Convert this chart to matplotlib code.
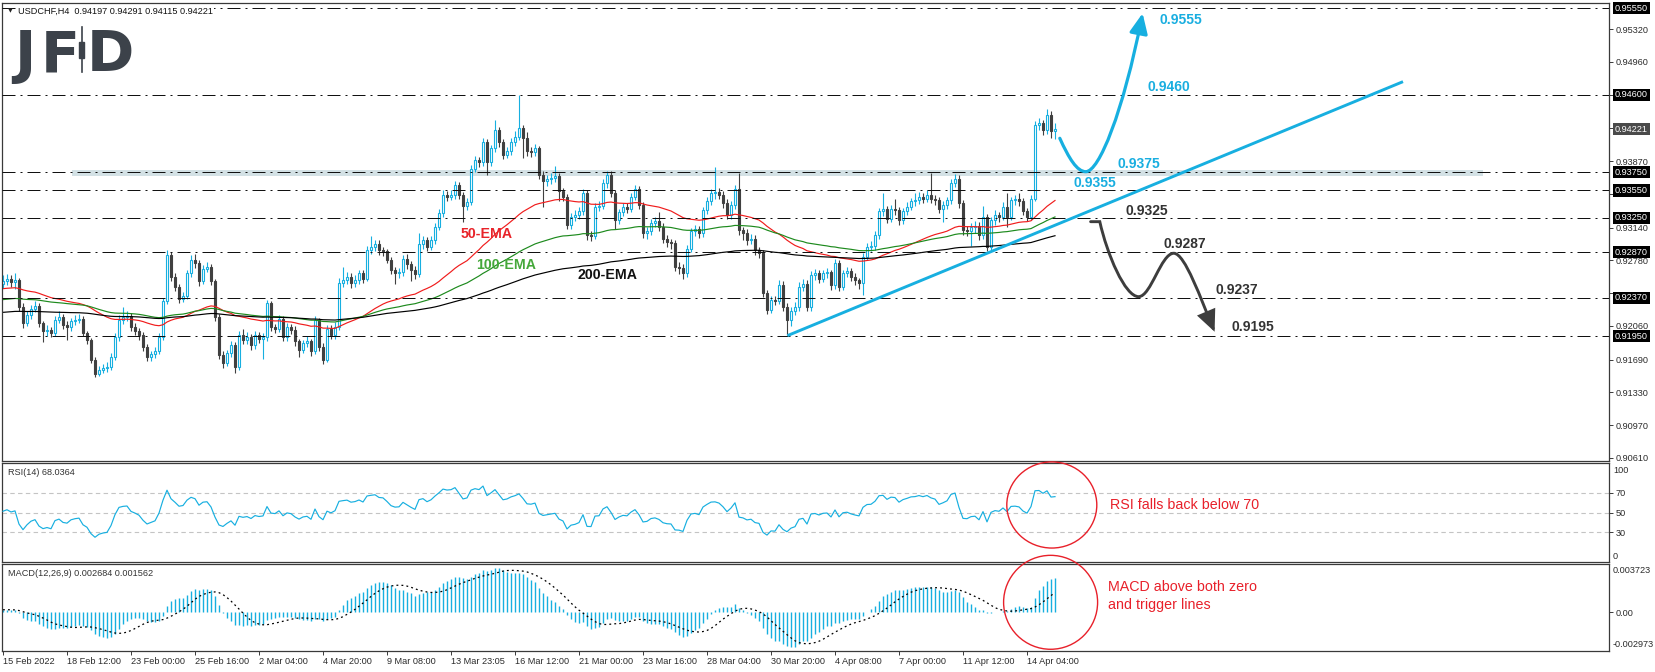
import numpy as np
import matplotlib
matplotlib.use('Agg')
from matplotlib import pyplot as plt
from matplotlib.patches import Rectangle, Ellipse, FancyArrowPatch
from matplotlib.path import Path
import matplotlib.transforms as mtransforms

plt.rcParams['font.family'] = ['Liberation Sans', 'DejaVu Sans']

# ---------------------------------------------------------------
# USDCHF H4 candles (bar 0 = 15 Feb 20:00)
# ---------------------------------------------------------------
first_open = 0.9252
close = [
    0.9255, 0.9258, 0.9254, 0.9256, 0.9227, 0.9209, 0.9218, 0.9225, 0.9228, 0.9209,
    0.9200, 0.9202, 0.9198, 0.9213, 0.9216, 0.9207, 0.9205, 0.9211, 0.9213, 0.9214,
    0.9198, 0.9191, 0.9169, 0.9153, 0.9158, 0.9160, 0.9161, 0.9172, 0.9194, 0.9213,
    0.9216, 0.9217, 0.9205, 0.9201, 0.9196, 0.9183, 0.9172, 0.9175, 0.9178, 0.9194,
    0.9233, 0.9284, 0.9260, 0.9249, 0.9236, 0.9239, 0.9264, 0.9279, 0.9275, 0.9255,
    0.9269, 0.9271, 0.9255, 0.9216, 0.9174, 0.9165, 0.9176, 0.9185, 0.9161, 0.9196,
    0.9191, 0.9194, 0.9185, 0.9196, 0.9192, 0.9194, 0.9231, 0.9205, 0.9203, 0.9214,
    0.9194, 0.9205, 0.9202, 0.9189, 0.9180, 0.9187, 0.9189, 0.9178, 0.9213, 0.9183,
    0.9169, 0.9203, 0.9196, 0.9205, 0.9253, 0.9257, 0.9260, 0.9253, 0.9256, 0.9264,
    0.9258, 0.9289, 0.9293, 0.9296, 0.9289, 0.9288, 0.9279, 0.9268, 0.9264, 0.9265,
    0.9280, 0.9274, 0.9268, 0.9263, 0.9296, 0.9300, 0.9293, 0.9300, 0.9315, 0.9330,
    0.9350, 0.9348, 0.9350, 0.9361, 0.9350, 0.9338, 0.9342, 0.9379, 0.9388, 0.9386,
    0.9408, 0.9386, 0.9401, 0.9421, 0.9408, 0.9394, 0.9398, 0.9408, 0.9414, 0.9423,
    0.9412, 0.9398, 0.9397, 0.9401, 0.9372, 0.9365, 0.9367, 0.9369, 0.9371, 0.9354,
    0.9348, 0.9317, 0.9326, 0.9328, 0.9332, 0.9352, 0.9306, 0.9305, 0.9337, 0.9338,
    0.9363, 0.9372, 0.9352, 0.9322, 0.9331, 0.9337, 0.9335, 0.9348, 0.9357, 0.9339,
    0.9308, 0.9310, 0.9319, 0.9321, 0.9315, 0.9302, 0.9298, 0.9297, 0.9271, 0.9270,
    0.9264, 0.9291, 0.9310, 0.9312, 0.9308, 0.9333, 0.9343, 0.9352, 0.9353, 0.9350,
    0.9341, 0.9328, 0.9339, 0.9357, 0.9311, 0.9308, 0.9300, 0.9302, 0.9289, 0.9286,
    0.9242, 0.9224, 0.9235, 0.9234, 0.9251, 0.9227, 0.9213, 0.9223, 0.9227, 0.9249,
    0.9252, 0.9227, 0.9262, 0.9264, 0.9258, 0.9264, 0.9265, 0.9251, 0.9275, 0.9249,
    0.9264, 0.9266, 0.9260, 0.9256, 0.9253, 0.9282, 0.9293, 0.9294, 0.9306, 0.9332,
    0.9334, 0.9324, 0.9334, 0.9333, 0.9322, 0.9332, 0.9337, 0.9343, 0.9344, 0.9348,
    0.9346, 0.9350, 0.9346, 0.9344, 0.9335, 0.9339, 0.9344, 0.9363, 0.9368, 0.9341,
    0.9311, 0.9310, 0.9315, 0.9316, 0.9306, 0.9326, 0.9293, 0.9322, 0.9328, 0.9326,
    0.9337, 0.9326, 0.9344, 0.9345, 0.9343, 0.9332, 0.9326, 0.9346, 0.9427, 0.9429,
    0.9421, 0.9438, 0.94197, 0.94221,
]
high = [
    0.9262, 0.9263, 0.9262, 0.9264, 0.9259, 0.9231, 0.9222, 0.9229, 0.9234, 0.9231,
    0.9212, 0.9207, 0.9205, 0.9217, 0.9223, 0.9219, 0.9211, 0.9215, 0.9218, 0.9219,
    0.9217, 0.9201, 0.9193, 0.9172, 0.9162, 0.9164, 0.9166, 0.9176, 0.9198, 0.9218,
    0.9227, 0.9222, 0.9220, 0.9209, 0.9204, 0.9199, 0.9186, 0.9179, 0.9183, 0.9198,
    0.9237, 0.9289, 0.9287, 0.9264, 0.9252, 0.9243, 0.9268, 0.9284, 0.9285, 0.9278,
    0.9273, 0.9276, 0.9274, 0.9258, 0.9219, 0.9178, 0.9180, 0.9190, 0.9188, 0.9201,
    0.9203, 0.9199, 0.9197, 0.9200, 0.9199, 0.9198, 0.9235, 0.9233, 0.9208, 0.9218,
    0.9217, 0.9209, 0.9208, 0.9206, 0.9192, 0.9191, 0.9195, 0.9192, 0.9217, 0.9215,
    0.9187, 0.9207, 0.9207, 0.9210, 0.9259, 0.9271, 0.9265, 0.9264, 0.9262, 0.9268,
    0.9268, 0.9294, 0.9305, 0.9301, 0.9300, 0.9293, 0.9291, 0.9282, 0.9271, 0.9270,
    0.9284, 0.9285, 0.9277, 0.9272, 0.9308, 0.9305, 0.9304, 0.9305, 0.9319, 0.9334,
    0.9355, 0.9354, 0.9355, 0.9365, 0.9364, 0.9353, 0.9347, 0.9383, 0.9393, 0.9392,
    0.9413, 0.9411, 0.9405, 0.9432, 0.9425, 0.9411, 0.9403, 0.9413, 0.9420, 0.9460,
    0.9427, 0.9419, 0.9403, 0.9406, 0.9404, 0.9376, 0.9372, 0.9374, 0.9382, 0.9374,
    0.9358, 0.9351, 0.9330, 0.9333, 0.9337, 0.9357, 0.9355, 0.9310, 0.9341, 0.9343,
    0.9367, 0.9376, 0.9376, 0.9355, 0.9335, 0.9341, 0.9341, 0.9352, 0.9361, 0.9360,
    0.9342, 0.9315, 0.9324, 0.9326, 0.9331, 0.9319, 0.9306, 0.9302, 0.9300, 0.9276,
    0.9274, 0.9295, 0.9314, 0.9317, 0.9316, 0.9337, 0.9348, 0.9356, 0.9381, 0.9358,
    0.9354, 0.9345, 0.9343, 0.9361, 0.9374, 0.9315, 0.9312, 0.9307, 0.9306, 0.9293,
    0.9289, 0.9246, 0.9239, 0.9239, 0.9256, 0.9255, 0.9231, 0.9227, 0.9232, 0.9254,
    0.9258, 0.9256, 0.9266, 0.9269, 0.9268, 0.9268, 0.9270, 0.9268, 0.9280, 0.9278,
    0.9268, 0.9271, 0.9270, 0.9264, 0.9259, 0.9286, 0.9297, 0.9299, 0.9310, 0.9336,
    0.9352, 0.9338, 0.9339, 0.9345, 0.9337, 0.9336, 0.9342, 0.9347, 0.9352, 0.9353,
    0.9352, 0.9355, 0.9374, 0.9350, 0.9348, 0.9343, 0.9348, 0.9367, 0.9373, 0.9372,
    0.9344, 0.9316, 0.9319, 0.9321, 0.9320, 0.9338, 0.9329, 0.9326, 0.9333, 0.9331,
    0.9342, 0.9352, 0.9348, 0.9350, 0.9352, 0.9347, 0.9336, 0.9350, 0.9431, 0.9434,
    0.9432, 0.9444, 0.9442, 0.94291,
]
low = [
    0.9248, 0.9251, 0.9249, 0.9247, 0.9222, 0.9204, 0.9206, 0.9214, 0.9221, 0.9205,
    0.9188, 0.9195, 0.9194, 0.9195, 0.9209, 0.9203, 0.9191, 0.9201, 0.9207, 0.9209,
    0.9195, 0.9186, 0.9165, 0.9150, 0.9151, 0.9154, 0.9155, 0.9158, 0.9169, 0.9190,
    0.9208, 0.9211, 0.9201, 0.9196, 0.9191, 0.9179, 0.9167, 0.9168, 0.9171, 0.9175,
    0.9191, 0.9230, 0.9255, 0.9244, 0.9231, 0.9232, 0.9236, 0.9260, 0.9270, 0.9250,
    0.9252, 0.9265, 0.9251, 0.9212, 0.9170, 0.9160, 0.9162, 0.9172, 0.9154, 0.9158,
    0.9186, 0.9186, 0.9180, 0.9181, 0.9187, 0.9170, 0.9190, 0.9201, 0.9198, 0.9199,
    0.9189, 0.9190, 0.9197, 0.9184, 0.9172, 0.9176, 0.9183, 0.9173, 0.9175, 0.9179,
    0.9164, 0.9166, 0.9192, 0.9192, 0.9202, 0.9249, 0.9252, 0.9248, 0.9249, 0.9252,
    0.9253, 0.9255, 0.9285, 0.9288, 0.9284, 0.9283, 0.9275, 0.9263, 0.9252, 0.9259,
    0.9261, 0.9269, 0.9255, 0.9258, 0.9260, 0.9291, 0.9288, 0.9289, 0.9296, 0.9311,
    0.9326, 0.9343, 0.9344, 0.9346, 0.9345, 0.9320, 0.9333, 0.9339, 0.9375, 0.9381,
    0.9382, 0.9372, 0.9382, 0.9397, 0.9403, 0.9389, 0.9390, 0.9394, 0.9404, 0.9410,
    0.9390, 0.9393, 0.9392, 0.9393, 0.9368, 0.9337, 0.9360, 0.9362, 0.9364, 0.9343,
    0.9343, 0.9313, 0.9313, 0.9321, 0.9324, 0.9328, 0.9300, 0.9299, 0.9302, 0.9332,
    0.9334, 0.9358, 0.9348, 0.9313, 0.9318, 0.9327, 0.9330, 0.9331, 0.9344, 0.9334,
    0.9303, 0.9302, 0.9306, 0.9315, 0.9310, 0.9297, 0.9293, 0.9291, 0.9266, 0.9263,
    0.9258, 0.9260, 0.9287, 0.9305, 0.9303, 0.9304, 0.9329, 0.9339, 0.9346, 0.9345,
    0.9336, 0.9323, 0.9324, 0.9335, 0.9306, 0.9300, 0.9295, 0.9296, 0.9284, 0.9281,
    0.9238, 0.9219, 0.9220, 0.9229, 0.9230, 0.9222, 0.9196, 0.9206, 0.9218, 0.9223,
    0.9244, 0.9222, 0.9223, 0.9257, 0.9253, 0.9254, 0.9259, 0.9246, 0.9247, 0.9244,
    0.9245, 0.9260, 0.9255, 0.9251, 0.9247, 0.9240, 0.9278, 0.9288, 0.9290, 0.9302,
    0.9327, 0.9319, 0.9320, 0.9328, 0.9317, 0.9318, 0.9328, 0.9333, 0.9338, 0.9340,
    0.9341, 0.9342, 0.9341, 0.9339, 0.9330, 0.9320, 0.9335, 0.9340, 0.9359, 0.9336,
    0.9306, 0.9305, 0.9294, 0.9308, 0.9301, 0.9302, 0.9288, 0.9289, 0.9317, 0.9320,
    0.9322, 0.9315, 0.9322, 0.9339, 0.9338, 0.9328, 0.9321, 0.9322, 0.9343, 0.9421,
    0.9416, 0.9417, 0.9413, 0.94115,
]

# time axis: one label every 16 bars
time_labels = ['15 Feb 2022', '18 Feb 12:00', '23 Feb 00:00', '25 Feb 16:00', '2 Mar 04:00',
               '4 Mar 20:00', '9 Mar 08:00', '13 Mar 23:05', '16 Mar 12:00', '21 Mar 00:00',
               '23 Mar 16:00', '28 Mar 04:00', '30 Mar 20:00', '4 Apr 08:00', '7 Apr 00:00',
               '11 Apr 12:00', '14 Apr 04:00']
label_step = 16

# right price scale (labels under the level boxes are hidden)
price_ticks = [0.9532, 0.9496, 0.9460, 0.9424, 0.9387, 0.9351, 0.9314,
               0.9278, 0.9242, 0.9206, 0.9169, 0.9133, 0.9097, 0.9061]
price_tick_labels = ['0.95320', '0.94960', '', '', '0.93870', '', '0.93140',
                     '0.92780', '', '0.92060', '0.91690', '0.91330', '0.90970', '0.90610']

# horizontal levels on the chart
levels = [0.9555, 0.9460, 0.9375, 0.9355, 0.9325, 0.9287, 0.9237, 0.9195]
last_price = 0.94221
title = 'USDCHF,H4  0.94197 0.94291 0.94115 0.94221'

# moving averages, value at the left edge
ema_periods = [50, 100, 200]
ema_start = [0.9247, 0.9235, 0.9221]

# indicator start state
macd_start = [0.9255, 0.9253]    # EMA12, EMA26
rsi_start = [0.00040, 0.00038]   # avg gain, avg loss
rsi_text = 'RSI(14) 68.0364'
macd_text = 'MACD(12,26,9) 0.002684 0.001562'

# drawings (bar index, price)
zone = [17.25, 370.0, 0.93711, 0.93774]
trend = [(196.1, 0.91954), (350.0, 0.94744)]
bull_path = [(264.2, 0.94122), (266.5, 0.9390), (268.5, 0.93755), (270.7, 0.93755),
             (274.0, 0.93755), (280.0, 0.9440), (284.9, 0.95495)]
bear_path = [(271.9, 0.93206), (274.2, 0.93206),
             (276.0, 0.9285), (280.5, 0.92382), (283.9, 0.92382),
             (287.0, 0.92382), (289.5, 0.92859), (292.7, 0.92859),
             (295.5, 0.92859), (299.5, 0.9235), (302.9, 0.91997)]
bull_labels = [('0.9555', 289.2, 0.95421), ('0.9460', 286.0, 0.94682),
               ('0.9375', 278.5, 0.93840), ('0.9355', 267.5, 0.93631)]
bear_labels = [('0.9325', 280.7, 0.93323), ('0.9287', 290.2, 0.92957),
               ('0.9237', 303.1, 0.92455), ('0.9195', 307.1, 0.92046)]
ema_labels = [('50-EMA', 114.5, 0.93071), ('100-EMA', 118.4, 0.92730), ('200-EMA', 143.5, 0.92620)]


def ema(values, period, seed):
    k = 2.0 / (period + 1)
    out = [seed]
    for v in values[1:]:
        out.append(out[-1] + k * (v - out[-1]))
    return np.array(out)


c = np.array(close)
h = np.array(high)
l = np.array(low)
o = np.concatenate([[first_open], c[:-1]])
x = np.arange(len(c))
up = c >= o

# RSI (Wilder)
ag, al = rsi_start
rsi = []
for d in np.diff(c, prepend=c[0]):
    ag = (ag * 13 + max(d, 0)) / 14
    al = (al * 13 + max(-d, 0)) / 14
    rsi.append(100 * ag / (ag + al))
rsi = np.array(rsi)

# MACD, MT4 style (main as histogram, SMA signal)
macd = ema(c, 12, macd_start[0]) - ema(c, 26, macd_start[1])
signal = np.array([macd[max(0, i - 8):i + 1].mean() for i in range(len(macd))])

BLUE = '#17afe0'
BEAR = '#404040'
FRAME = '#3a3a3a'
AXTXT = '#2b2b2b'
RED = '#e8202a'
XLIM = (-0.25, 401.5)

fig = plt.figure(figsize=(16.55, 6.72), dpi=100)
W, H = 1655.0, 672.0
ax = fig.add_axes([2 / W, 1 - 461 / H, 1607 / W, 458 / H])
ax_rsi = fig.add_axes([2 / W, 1 - 562 / H, 1607 / W, 99 / H])
ax_macd = fig.add_axes([2 / W, 1 - 651 / H, 1607 / W, 87 / H])

for a in (ax, ax_rsi, ax_macd):
    a.set_xlim(*XLIM)
    for s in a.spines.values():
        s.set_color(FRAME)
        s.set_linewidth(0.9)
    a.yaxis.tick_right()
    a.tick_params(axis='y', direction='out', length=3, width=0.7, color=FRAME,
                  labelsize=6.6, labelcolor=AXTXT, pad=2)
    a.tick_params(axis='x', bottom=False, labelbottom=False)

# ---------------- main price panel ----------------
ax.set_ylim(0.90577, 0.95608)
ax.add_patch(Rectangle((zone[0], zone[2]), zone[1] - zone[0], zone[3] - zone[2],
                       facecolor='#d3e1e5', edgecolor='none', zorder=0.5))

body_lo = np.minimum(o, c)
body_h = np.maximum(np.abs(c - o), 0.00002)
ax.vlines(x[up], l[up], h[up], color=BLUE, lw=0.8, zorder=2)
ax.vlines(x[~up], l[~up], h[~up], color=BEAR, lw=0.8, zorder=2)
ax.bar(x[up], body_h[up], bottom=body_lo[up], width=0.7, facecolor='white',
       edgecolor=BLUE, linewidth=0.8, zorder=2.1)
ax.bar(x[~up], body_h[~up], bottom=body_lo[~up], width=0.7, facecolor=BEAR,
       edgecolor=BEAR, linewidth=0.8, zorder=2.1)

for period, seed, col in zip(ema_periods, ema_start, ['#f01c1c', '#1d8a1d', '#000000']):
    ax.plot(x, ema(c, period, seed), color=col, lw=0.85, zorder=2.5)

for lv in levels:
    ax.axhline(lv, color='#111111', lw=0.72, ls=(0, (13, 5, 2, 5)), zorder=3)

ax.plot([p[0] for p in trend], [p[1] for p in trend], color=BLUE, lw=2.1,
        solid_capstyle='butt', zorder=4)

bull_codes = [Path.MOVETO] + [Path.CURVE4] * 6
ax.add_patch(FancyArrowPatch(path=Path(bull_path, bull_codes),
                             arrowstyle='-|>,head_length=1.1,head_width=0.5',
                             mutation_scale=11, lw=2.3, color=BLUE, zorder=5))
bear_codes = [Path.MOVETO, Path.LINETO] + [Path.CURVE4] * 9
ax.add_patch(FancyArrowPatch(path=Path(bear_path, bear_codes),
                             arrowstyle='-|>,head_length=1.1,head_width=0.5',
                             mutation_scale=11, lw=2.1, color='#3d3d3d', zorder=5,
                             joinstyle='miter'))

for txt, bx, py in bull_labels:
    ax.text(bx, py, txt, color='#19aee0', fontsize=10, fontweight='bold',
            ha='left', va='center', zorder=6)
for txt, bx, py in bear_labels:
    ax.text(bx, py, txt, color='#333333', fontsize=10, fontweight='bold',
            ha='left', va='center', zorder=6)
for (txt, bx, py), col in zip(ema_labels, ['#e8242a', '#45a83a', '#111111']):
    ax.text(bx, py, txt, color=col, fontsize=10.2, fontweight='bold',
            ha='left', va='center', zorder=6)

ax.set_yticks(price_ticks)
ax.set_yticklabels(price_tick_labels)

ytr = mtransforms.blended_transform_factory(ax.transAxes, ax.transData)
for lv in levels:
    ax.text(1.0037, lv, f'{lv:.5f}', transform=ytr, ha='left', va='center',
            fontsize=6.6, color='white', zorder=7, clip_on=False,
            bbox=dict(boxstyle='square,pad=0.18', fc='black', ec='none'))
ax.text(1.0037, last_price, f'{last_price:.5f}', transform=ytr, ha='left', va='center',
        fontsize=6.6, color='white', zorder=7, clip_on=False,
        bbox=dict(boxstyle='square,pad=0.18', fc='#4a4a4a', ec='none'))

# title + logo
ax.text(0.0037, 0.9825, '\u25bc', transform=ax.transAxes, fontsize=4.5,
        color='#222222', ha='left', va='center', family=['DejaVu Sans'])
ax.text(0.0100, 0.9825, title, transform=ax.transAxes, fontsize=6.6, color='#111111',
        ha='left', va='center', zorder=8,
        bbox=dict(boxstyle='square,pad=0.1', fc='white', ec='none'))
logo_col = '#3c424a'
for ch, px in [('J', 14), ('F', 41), ('D', 87)]:
    fig.text(px / W, 1 - 72 / H, ch, fontsize=41, fontweight='bold', color=logo_col,
             ha='left', va='baseline', family=['DejaVu Sans'])
fig.add_artist(plt.Line2D([81.5 / W, 81.5 / W], [1 - 27 / H, 1 - 72 / H],
                          color=logo_col, lw=1.2))
fig.add_artist(Rectangle((79 / W, 1 - 58 / H), 5 / W, 16 / H, color=logo_col))

# ---------------- RSI panel ----------------
ax_rsi.set_ylim(0, 100)
for lv in (30, 50, 70):
    ax_rsi.axhline(lv, color='#c4c4c4', lw=0.8, ls=(0, (4, 3)), zorder=1)
ax_rsi.plot(x, rsi, color=BLUE, lw=0.85, zorder=3)
ax_rsi.set_yticks([30, 50, 70])
ax_rsi.set_yticklabels(['30', '50', '70'])
ax_rsi.text(1.0025, 0.92, '100', transform=ax_rsi.transAxes, fontsize=6.6,
            color=AXTXT, ha='left', va='center')
ax_rsi.text(1.0025, 0.06, '0', transform=ax_rsi.transAxes, fontsize=6.6,
            color=AXTXT, ha='left', va='center')
ax_rsi.text(0.004, 0.90, rsi_text, transform=ax_rsi.transAxes, fontsize=6.6,
            color='#333333', ha='left', va='center')
ax_rsi.add_patch(Ellipse((262.2, 57.6), 22.5, 87, fill=False, edgecolor=RED,
                         lw=1.0, clip_on=False, zorder=6))
ax_rsi.text(276.8, 57.6, 'RSI falls back below 70', color=RED, fontsize=10.3,
            ha='left', va='center')

# ---------------- MACD panel ----------------
ax_macd.set_ylim(-0.002973, 0.003723)
ax_macd.vlines(x, 0, macd, color=BLUE, lw=1.0, zorder=2)
ax_macd.plot(x, signal, color='black', lw=0.9, ls=(0, (1.5, 2.5)), zorder=3)
ax_macd.set_yticks([0])
ax_macd.set_yticklabels(['0.00'])
ax_macd.text(1.0025, 0.92, '0.003723', transform=ax_macd.transAxes, fontsize=6.6,
             color=AXTXT, ha='left', va='center')
ax_macd.text(1.0025, 0.08, '-0.002973', transform=ax_macd.transAxes, fontsize=6.6,
             color=AXTXT, ha='left', va='center')
ax_macd.text(0.004, 0.89, macd_text, transform=ax_macd.transAxes, fontsize=6.6,
             color='#333333', ha='left', va='center')
ax_macd.add_patch(Ellipse((261.9, 0.000775), 23.5, 0.00723, fill=False, edgecolor=RED,
                          lw=1.0, clip_on=False, zorder=6))
ax_macd.text(276.3, 0.00126, 'MACD above both zero\nand trigger lines', color=RED,
             fontsize=10.3, ha='left', va='center', linespacing=1.3)

ax_macd.set_xticks(np.arange(len(time_labels)) * label_step)
ax_macd.set_xticklabels(time_labels)
ax_macd.tick_params(axis='x', bottom=True, labelbottom=True, direction='out', length=3,
                    width=0.7, color=FRAME, labelsize=6.6, labelcolor=AXTXT, pad=1.5)
for lbl in ax_macd.get_xticklabels():
    lbl.set_horizontalalignment('left')

fig.savefig('out.png', dpi=100, facecolor='white')
